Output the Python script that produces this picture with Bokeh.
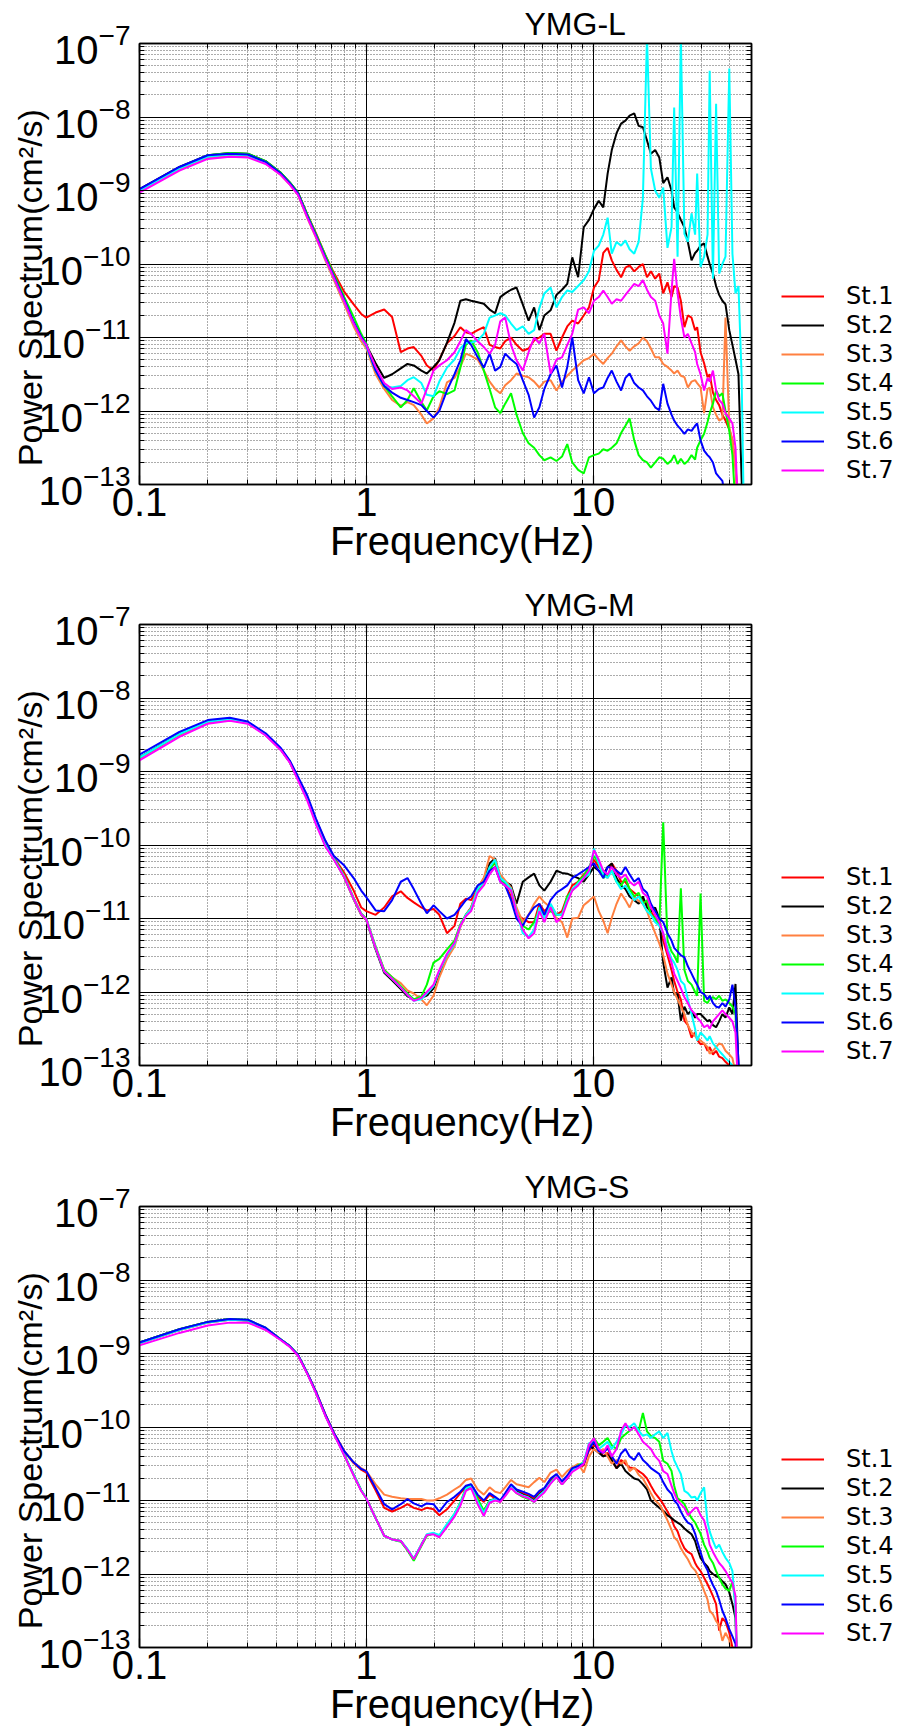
import sys
import math
import numpy as np
from bokeh.plotting import figure
from bokeh.models import (Range1d, FixedTicker, LogAxis, Legend, LegendItem,
                          CustomJSTickFormatter, LogTickFormatter, Title)
from bokeh.layouts import column, row
from bokeh.embed import file_html
from bokeh.resources import INLINE

# ---------------------------------------------------------------- data
FREQ_HZ = [
    0.10, 0.15, 0.20, 0.25, 0.30, 0.36, 0.42, 0.46,
    0.50, 0.55, 0.60, 0.66, 0.72, 0.80, 0.88, 0.95,
    1.00, 1.10, 1.20, 1.30, 1.42, 1.52, 1.62, 1.75, 1.85, 1.98,
    2.10, 2.27, 2.45, 2.60, 2.75, 2.90, 3.10, 3.30, 3.50, 3.70,
    3.90, 4.10, 4.35, 4.60, 4.90, 5.20, 5.50, 5.80, 6.10, 6.50,
    6.90, 7.30, 7.70, 8.10, 8.60, 9.10, 9.60,
    10.1, 10.6, 11.1, 11.6, 12.1, 12.7, 13.3, 13.9, 14.5, 15.2,
    15.9, 16.6, 17.3, 18.0, 18.8, 19.6, 20.4, 21.3, 22.2, 22.8,
    23.6, 24.4, 25.3, 26.2, 27.2, 28.2, 28.8, 29.8, 30.9, 32.0,
    32.7, 33.8, 34.9, 36.0, 37.2, 38.4, 39.9, 41.2, 42.5, 43.8,
    45.2, 46.6, 48.0, 49.5,
]

STATIONS = ["St.1", "St.2", "St.3", "St.4", "St.5", "St.6", "St.7"]
COLORS = ["#FF0000", "#000000", "#FF8040", "#00FF00", "#00FFFF", "#0000FF", "#FF00FF"]
PANEL_TITLES = ["YMG-L", "YMG-M", "YMG-S"]
Y_EXPONENTS = [-13, -12, -11, -10, -9, -8, -7]
X_MAJOR = [0.1, 1.0, 10.0]
X_TICK_TEXT = ["0.1", "1", "10"]
X_RANGE = (0.1, 50.0)
X_LABEL = "Frequency(Hz)"
Y_LABEL = "Power Spectrum(cm\u00b2/s)"

# log10 of power spectrum (cm^2/s)
# ---- YMG-L
L_ST1 = [
    -9.01, -8.71, -8.55, -8.52, -8.53, -8.63, -8.78, -8.90,
    -9.03, -9.33, -9.58, -9.88, -10.12, -10.38, -10.55, -10.68,
    -10.73, -10.66, -10.62, -10.72, -11.20, -11.15, -11.13, -11.25, -11.38, -11.45,
    -11.30, -11.08, -10.98, -10.86, -10.93, -10.95, -10.90, -10.86, -11.10, -11.13,
    -11.15, -11.05, -11.00, -11.10, -11.18, -11.15, -11.04, -11.00, -10.95, -10.95,
    -11.18, -11.00, -10.85, -10.77, -10.81, -10.70, -10.59,
    -10.32, -10.22, -9.85, -9.78, -9.95, -10.08, -10.18, -10.05, -10.02, -10.10,
    -10.04, -10.00, -10.18, -10.10, -10.20, -10.13, -10.40, -10.25, -10.45, -10.30,
    -10.32, -10.50, -10.86, -10.70, -10.73, -10.90, -10.86, -11.20, -11.35, -11.54,
    -11.50, -11.75, -11.85, -11.92, -12.05, -12.13, -12.25, -12.40, -12.75, -13.30,
    -14.0, -14.0, -14.0, -14.0,
]
L_ST2 = [
    -8.98, -8.68, -8.52, -8.49, -8.50, -8.60, -8.76, -8.89,
    -9.03, -9.34, -9.61, -9.91, -10.17, -10.50, -10.80, -11.00,
    -11.10, -11.35, -11.55, -11.50, -11.42, -11.36, -11.38, -11.45, -11.49, -11.40,
    -11.31, -11.07, -10.80, -10.50, -10.48, -10.50, -10.52, -10.54, -10.62, -10.67,
    -10.45, -10.40, -10.35, -10.32, -10.55, -10.77, -10.59, -10.90, -10.70, -10.63,
    -10.42, -10.35, -10.27, -9.91, -10.18, -9.50, -9.40,
    -9.25, -9.14, -9.23, -8.77, -8.45, -8.22, -8.09, -8.05, -7.98, -7.95,
    -8.12, -8.14, -8.32, -8.50, -8.45, -8.55, -8.90, -8.82, -9.00, -9.23,
    -9.30, -9.40, -9.50, -9.70, -9.95, -9.85, -9.82, -9.75, -9.72, -9.90,
    -10.00, -10.13, -10.30, -10.42, -10.50, -10.55, -10.90, -11.10, -11.30, -11.50,
    -12.90, -14.0, -14.0, -14.0,
]
L_ST3 = [
    -9.01, -8.71, -8.55, -8.52, -8.53, -8.63, -8.79, -8.92,
    -9.06, -9.38, -9.64, -9.95, -10.22, -10.55, -10.85, -11.05,
    -11.15, -11.50, -11.70, -11.85, -11.93, -11.88, -11.92, -12.05, -12.17, -12.10,
    -11.95, -11.61, -11.55, -11.40, -11.22, -11.25, -11.30, -11.45, -11.60, -11.70,
    -11.76, -11.65, -11.58, -11.49, -11.52, -11.54, -11.60, -11.68, -11.60, -11.58,
    -11.72, -11.60, -11.52, -11.45, -11.38, -11.31, -11.28,
    -11.22, -11.30, -11.36, -11.28, -11.22, -11.12, -11.04, -11.12, -11.18, -11.12,
    -11.08, -11.00, -11.05, -11.15, -11.27, -11.27, -11.36, -11.40, -11.45, -11.49,
    -11.45, -11.52, -11.54, -11.68, -11.60, -11.58, -11.62, -11.68, -12.03, -11.70,
    -11.68, -11.95, -12.05, -12.13, -12.10, -10.73, -12.22, -12.40, -12.77, -13.50,
    -14.0, -14.0, -14.0, -14.0,
]
L_ST4 = [
    -8.99, -8.69, -8.52, -8.49, -8.50, -8.60, -8.76, -8.89,
    -9.03, -9.33, -9.59, -9.88, -10.14, -10.45, -10.72, -10.95,
    -11.08, -11.45, -11.66, -11.80, -11.95, -11.85, -11.69, -11.88, -11.99, -11.80,
    -11.73, -11.77, -11.72, -11.41, -11.10, -11.04, -11.20, -11.45, -11.70, -11.95,
    -12.03, -11.90, -11.76, -12.05, -12.30, -12.44, -12.50, -12.60, -12.67, -12.63,
    -12.68, -12.62, -12.45, -12.70, -12.80, -12.85, -12.63,
    -12.60, -12.58, -12.52, -12.54, -12.50, -12.44, -12.30, -12.20, -12.10, -12.40,
    -12.60, -12.67, -12.70, -12.77, -12.70, -12.63, -12.65, -12.72, -12.67, -12.60,
    -12.72, -12.65, -12.72, -12.68, -12.60, -12.66, -12.50, -12.40, -12.31, -12.15,
    -12.03, -11.90, -11.72, -11.80, -11.76, -12.00, -12.27, -12.60, -13.30, -14.0,
    -14.0, -14.0, -14.0, -14.0,
]
L_ST5 = [
    -9.00, -8.70, -8.54, -8.51, -8.52, -8.62, -8.78, -8.91,
    -9.05, -9.36, -9.62, -9.93, -10.19, -10.51, -10.81, -11.01,
    -11.12, -11.45, -11.66, -11.68, -11.66, -11.58, -11.54, -11.62, -11.78, -11.80,
    -11.60, -11.41, -11.30, -11.15, -11.07, -11.07, -11.04, -10.95, -10.73, -10.70,
    -10.67, -10.70, -10.81, -10.90, -10.85, -10.95, -10.90, -10.60, -10.40, -10.32,
    -10.59, -10.45, -10.36, -10.38, -10.30, -10.22, -10.10,
    -9.82, -9.75, -9.60, -9.37, -9.86, -9.70, -9.75, -9.68, -9.80, -9.86,
    -9.70, -9.10, -6.90, -8.70, -9.00, -9.10, -8.96, -9.78, -9.50, -7.87,
    -9.90, -6.90, -9.59, -9.70, -9.31, -9.60, -8.77, -10.04, -9.90, -9.60,
    -7.37, -10.20, -7.82, -10.13, -10.00, -9.90, -7.34, -9.86, -10.40, -10.30,
    -11.50, -14.0, -14.0, -14.0,
]
L_ST6 = [
    -8.98, -8.68, -8.52, -8.50, -8.51, -8.61, -8.77, -8.90,
    -9.04, -9.35, -9.61, -9.91, -10.17, -10.49, -10.79, -10.99,
    -11.10, -11.45, -11.66, -11.75, -11.82, -11.85, -11.88, -11.92, -12.00, -12.09,
    -12.00, -11.72, -11.50, -11.31, -11.02, -11.10, -11.27, -11.41, -11.22, -11.45,
    -11.40, -11.22, -11.30, -11.36, -11.58, -11.78, -12.09, -11.95, -11.70, -11.50,
    -11.38, -11.68, -11.40, -11.00, -11.58, -11.76, -11.54,
    -11.76, -11.70, -11.68, -11.55, -11.45, -11.60, -11.72, -11.55, -11.49, -11.62,
    -11.68, -11.72, -11.80, -11.86, -11.95, -11.99, -11.63, -11.90, -12.05, -12.13,
    -12.20, -12.25, -12.31, -12.25, -12.27, -12.20, -12.17, -12.40, -12.54, -12.60,
    -12.63, -12.70, -12.85, -12.90, -12.95, -13.20, -14.0, -14.0, -14.0, -14.0,
    -14.0, -14.0, -14.0, -14.0,
]
L_ST7 = [
    -9.03, -8.73, -8.57, -8.54, -8.55, -8.64, -8.79, -8.92,
    -9.06, -9.37, -9.63, -9.93, -10.19, -10.51, -10.81, -11.01,
    -11.10, -11.40, -11.62, -11.70, -11.68, -11.72, -11.80, -11.90, -11.70, -11.45,
    -11.38, -11.31, -11.20, -11.05, -10.90, -10.95, -11.05, -11.13, -11.22, -11.10,
    -10.78, -10.73, -11.10, -11.31, -11.45, -11.20, -11.00, -11.08, -10.95, -11.49,
    -11.30, -11.27, -11.10, -10.95, -10.62, -10.59, -10.67,
    -10.50, -10.45, -10.36, -10.45, -10.54, -10.48, -10.50, -10.42, -10.35, -10.27,
    -10.30, -10.22, -10.35, -10.45, -10.50, -10.70, -10.81, -11.22, -10.36, -9.93,
    -10.40, -10.73, -11.00, -10.95, -11.08, -11.20, -11.36, -11.50, -11.72, -11.55,
    -11.60, -11.45, -11.72, -11.85, -11.90, -12.03, -12.10, -12.17, -12.50, -13.50,
    -14.0, -14.0, -14.0, -14.0,
]

# ---- YMG-M
M_ST1 = [
    -8.82, -8.50, -8.33, -8.30, -8.34, -8.50, -8.70, -8.87,
    -9.09, -9.36, -9.66, -9.95, -10.17, -10.38, -10.62, -10.85,
    -10.90, -10.95, -10.85, -10.70, -10.63, -10.72, -10.78, -10.85, -10.89, -10.87,
    -10.95, -11.20, -11.10, -10.80, -10.73, -10.75, -10.60, -10.45, -10.30, -10.25,
    -10.45, -10.55, -10.70, -10.95, -11.00, -11.05, -11.05, -10.80, -10.90, -10.82,
    -10.95, -10.90, -10.70, -10.55, -10.50, -10.40, -10.35,
    -10.20, -10.30, -10.35, -10.45, -10.25, -10.35, -10.50, -10.50, -10.60, -10.65,
    -10.70, -10.75, -10.80, -10.90, -11.00, -11.05, -11.30, -11.50, -11.70, -11.85,
    -12.00, -12.10, -12.39, -12.45, -12.62, -12.55, -12.65, -12.71, -12.70, -12.80,
    -12.75, -12.85, -12.80, -12.88, -12.90, -12.95, -13.00, -13.20, -13.50, -14.0,
    -14.0, -14.0, -14.0, -14.0,
]
M_ST2 = [
    -8.81, -8.49, -8.32, -8.29, -8.33, -8.50, -8.70, -8.87,
    -9.10, -9.37, -9.69, -10.00, -10.19, -10.44, -10.74, -10.95,
    -11.02, -11.42, -11.74, -11.84, -11.96, -12.06, -12.10, -12.08, -12.05, -11.95,
    -11.75, -11.50, -11.35, -11.10, -10.95, -10.85, -10.60, -10.50, -10.25, -10.18,
    -10.45, -10.50, -10.55, -10.80, -10.50, -10.44, -10.39, -10.55, -10.62, -10.50,
    -10.35, -10.38, -10.39, -10.42, -10.45, -10.50, -10.40,
    -10.30, -10.35, -10.40, -10.30, -10.25, -10.45, -10.55, -10.60, -10.70, -10.75,
    -10.80, -10.70, -10.85, -10.90, -10.85, -11.00, -11.60, -11.94, -11.80, -12.03,
    -12.03, -12.39, -12.20, -12.30, -12.25, -12.35, -12.30, -12.30, -12.35, -12.40,
    -12.38, -12.45, -12.48, -12.40, -12.30, -12.35, -12.21, -12.30, -11.89, -13.00,
    -14.0, -14.0, -14.0, -14.0,
]
M_ST3 = [
    -8.82, -8.50, -8.33, -8.30, -8.34, -8.50, -8.70, -8.87,
    -9.10, -9.37, -9.69, -10.00, -10.19, -10.44, -10.74, -10.95,
    -11.02, -11.40, -11.70, -11.80, -11.88, -11.98, -12.02, -12.10, -12.18, -12.05,
    -11.80, -11.55, -11.38, -11.12, -10.95, -10.85, -10.58, -10.45, -10.15, -10.20,
    -10.40, -10.48, -10.58, -10.85, -11.05, -10.95, -10.80, -10.70, -10.78, -10.85,
    -11.00, -11.05, -11.26, -11.00, -10.99, -10.82, -10.76,
    -10.70, -10.90, -11.03, -11.20, -10.99, -10.80, -10.66, -10.75, -10.85, -10.70,
    -10.76, -10.80, -10.90, -11.05, -11.20, -11.34, -11.50, -11.75, -11.90, -12.00,
    -12.10, -12.20, -12.30, -12.45, -12.55, -12.60, -12.62, -12.66, -12.70, -12.75,
    -12.84, -12.80, -12.75, -12.70, -12.72, -12.80, -12.85, -12.90, -13.10, -14.0,
    -14.0, -14.0, -14.0, -14.0,
]
M_ST4 = [
    -8.81, -8.49, -8.32, -8.29, -8.33, -8.50, -8.70, -8.87,
    -9.10, -9.37, -9.69, -10.00, -10.18, -10.42, -10.72, -10.93,
    -11.00, -11.38, -11.70, -11.80, -11.92, -12.02, -12.10, -12.06, -11.90, -11.60,
    -11.55, -11.42, -11.30, -11.08, -10.95, -10.88, -10.62, -10.50, -10.35, -10.22,
    -10.48, -10.52, -10.62, -10.92, -11.10, -11.15, -11.05, -10.88, -10.95, -10.90,
    -10.95, -10.95, -10.70, -10.62, -10.50, -10.42, -10.30,
    -10.15, -10.25, -10.45, -10.40, -10.35, -10.50, -10.55, -10.45, -10.60, -10.70,
    -10.65, -10.80, -10.75, -10.95, -11.00, -11.10, -9.69, -11.30, -11.45, -11.50,
    -11.60, -10.59, -11.70, -11.85, -11.90, -12.00, -12.05, -10.66, -12.12, -12.15,
    -12.10, -12.07, -12.10, -12.05, -12.12, -12.10, -12.15, -12.20, -12.30, -13.30,
    -14.0, -14.0, -14.0, -14.0,
]
M_ST5 = [
    -8.81, -8.49, -8.32, -8.29, -8.33, -8.50, -8.70, -8.87,
    -9.10, -9.37, -9.69, -10.00, -10.19, -10.43, -10.73, -10.94,
    -11.01, -11.40, -11.72, -11.82, -11.94, -12.04, -12.12, -12.10, -12.02, -11.92,
    -11.72, -11.50, -11.35, -11.10, -10.95, -10.87, -10.60, -10.50, -10.30, -10.20,
    -10.45, -10.50, -10.60, -10.90, -11.20, -11.25, -11.15, -10.85, -11.00, -10.80,
    -10.95, -10.95, -10.75, -10.60, -10.52, -10.45, -10.40,
    -10.05, -10.25, -10.40, -10.45, -10.35, -10.50, -10.60, -10.55, -10.65, -10.75,
    -10.70, -10.80, -10.90, -10.95, -11.05, -11.10, -11.20, -11.40, -11.55, -11.60,
    -11.70, -11.85, -11.90, -12.10, -12.30, -12.50, -12.66, -12.55, -12.60, -12.66,
    -12.60, -12.70, -12.75, -12.80, -12.85, -12.90, -12.95, -13.00, -13.20, -14.0,
    -14.0, -14.0, -14.0, -14.0,
]
M_ST6 = [
    -8.77, -8.46, -8.30, -8.27, -8.32, -8.48, -8.68, -8.85,
    -9.07, -9.33, -9.64, -9.94, -10.15, -10.28, -10.45, -10.62,
    -10.71, -10.89, -10.90, -10.75, -10.50, -10.45, -10.60, -10.80, -10.93, -10.82,
    -10.90, -11.00, -10.95, -10.85, -10.75, -10.70, -10.55, -10.50, -10.35, -10.30,
    -10.50, -10.55, -10.75, -11.00, -11.10, -10.95, -10.85, -10.80, -10.95, -10.75,
    -10.65, -10.60, -10.55, -10.45, -10.40, -10.35, -10.30,
    -10.25, -10.35, -10.45, -10.30, -10.31, -10.35, -10.40, -10.30, -10.40, -10.50,
    -10.45, -10.60, -10.65, -10.80, -10.90, -11.00, -11.05, -11.20, -11.30, -11.40,
    -11.45, -11.50, -11.53, -11.65, -11.75, -11.85, -11.90, -12.00, -12.03, -12.10,
    -12.05, -12.15, -12.20, -12.21, -12.15, -12.20, -12.10, -11.90, -12.20, -12.95,
    -14.0, -14.0, -14.0, -14.0,
]
M_ST7 = [
    -8.85, -8.53, -8.35, -8.31, -8.35, -8.51, -8.71, -8.88,
    -9.12, -9.40, -9.72, -10.02, -10.20, -10.44, -10.73, -10.94,
    -11.01, -11.40, -11.72, -11.82, -11.94, -12.04, -12.12, -12.08, -12.00, -11.90,
    -11.70, -11.48, -11.33, -11.10, -10.97, -10.90, -10.65, -10.55, -10.40, -10.30,
    -10.50, -10.55, -10.62, -10.92, -11.15, -11.27, -11.20, -10.90, -11.05, -10.85,
    -11.05, -10.98, -10.78, -10.62, -10.55, -10.45, -10.35,
    -10.07, -10.20, -10.35, -10.40, -10.30, -10.40, -10.45, -10.40, -10.50, -10.55,
    -10.50, -10.65, -10.70, -10.85, -10.95, -11.05, -11.20, -11.45, -11.60, -11.75,
    -11.85, -11.95, -12.07, -12.15, -12.25, -12.30, -12.35, -12.40, -12.48, -12.45,
    -12.50, -12.40, -12.35, -12.30, -12.25, -12.30, -12.35, -12.40, -12.55, -13.40,
    -14.0, -14.0, -14.0, -14.0,
]

# ---- YMG-S
S_ST1 = [
    -8.86, -8.68, -8.58, -8.54, -8.55, -8.66, -8.81, -8.90,
    -9.02, -9.27, -9.52, -9.83, -10.08, -10.33, -10.49, -10.58,
    -10.62, -10.86, -11.10, -11.15, -11.10, -11.05, -11.10, -11.13, -11.10, -11.12,
    -11.20, -11.12, -11.00, -10.90, -10.82, -10.80, -10.95, -11.02, -10.92, -10.97,
    -11.02, -10.92, -10.80, -10.87, -10.90, -10.93, -10.97, -10.89, -10.85, -10.72,
    -10.66, -10.76, -10.68, -10.58, -10.55, -10.52, -10.32,
    -10.25, -10.30, -10.40, -10.35, -10.45, -10.56, -10.45, -10.50, -10.55, -10.56,
    -10.60, -10.64, -10.70, -10.80, -10.90, -10.97, -11.05, -11.15, -11.25, -11.35,
    -11.42, -11.55, -11.65, -11.70, -11.73, -11.85, -11.90, -11.96, -12.05, -12.14,
    -12.20, -12.30, -12.41, -12.77, -12.60, -12.65, -12.80, -13.00, -13.50, -14.0,
    -14.0, -14.0, -14.0, -14.0,
]
S_ST2 = [
    -8.85, -8.67, -8.57, -8.53, -8.55, -8.66, -8.81, -8.90,
    -9.02, -9.27, -9.53, -9.84, -10.09, -10.38, -10.65, -10.86,
    -10.97, -11.24, -11.48, -11.53, -11.55, -11.67, -11.80, -11.60, -11.47, -11.45,
    -11.49, -11.35, -11.20, -11.05, -10.85, -10.80, -11.00, -11.15, -11.00, -10.98,
    -11.00, -10.92, -10.80, -10.88, -10.92, -10.95, -11.00, -10.92, -10.86, -10.75,
    -10.68, -10.78, -10.70, -10.60, -10.55, -10.50, -10.25,
    -10.30, -10.35, -10.40, -10.38, -10.45, -10.56, -10.50, -10.60, -10.65, -10.70,
    -10.72, -10.78, -10.85, -11.00, -11.05, -11.10, -11.14, -11.20, -11.24, -11.27,
    -11.30, -11.33, -11.38, -11.42, -11.46, -11.55, -11.65, -11.78, -11.85, -11.90,
    -11.96, -12.00, -12.03, -12.05, -12.10, -12.14, -12.25, -12.41, -12.60, -14.0,
    -14.0, -14.0, -14.0, -14.0,
]
S_ST3 = [
    -8.86, -8.68, -8.58, -8.54, -8.55, -8.66, -8.81, -8.90,
    -9.02, -9.27, -9.52, -9.83, -10.08, -10.33, -10.48, -10.56,
    -10.60, -10.78, -10.92, -10.95, -10.97, -10.98, -10.98, -10.98, -11.00, -11.00,
    -10.97, -10.92, -10.85, -10.80, -10.72, -10.70, -10.85, -10.92, -10.82, -10.88,
    -10.90, -10.82, -10.72, -10.78, -10.80, -10.82, -10.75, -10.69, -10.75, -10.62,
    -10.58, -10.68, -10.60, -10.55, -10.50, -10.62, -10.40,
    -10.30, -10.35, -10.30, -10.40, -10.50, -10.45, -10.50, -10.45, -10.60, -10.55,
    -10.65, -10.70, -10.80, -10.90, -11.00, -11.05, -11.15, -11.27, -11.40, -11.50,
    -11.55, -11.65, -11.73, -11.80, -11.90, -11.95, -12.00, -12.10, -12.23, -12.35,
    -12.50, -12.55, -12.64, -12.70, -12.91, -12.80, -12.90, -13.20, -14.0, -14.0,
    -14.0, -14.0, -14.0, -14.0,
]
S_ST4 = [
    -8.85, -8.67, -8.57, -8.53, -8.54, -8.65, -8.81, -8.90,
    -9.02, -9.27, -9.53, -9.84, -10.09, -10.38, -10.65, -10.86,
    -10.97, -11.24, -11.48, -11.53, -11.56, -11.68, -11.82, -11.62, -11.48, -11.45,
    -11.48, -11.33, -11.18, -11.03, -10.83, -10.78, -10.98, -11.14, -11.00, -10.99,
    -11.01, -10.93, -10.82, -10.90, -10.95, -10.98, -11.02, -10.94, -10.88, -10.76,
    -10.66, -10.76, -10.68, -10.58, -10.52, -10.48, -10.28,
    -10.15, -10.25, -10.20, -10.15, -10.25, -10.30, -10.15, -10.10, -10.05, -10.00,
    -10.05, -9.81, -10.06, -10.12, -10.15, -10.20, -10.46, -10.50, -10.60, -10.80,
    -10.97, -11.00, -11.05, -11.15, -11.24, -11.30, -11.36, -11.45, -11.60, -11.70,
    -11.78, -11.85, -11.96, -12.05, -12.14, -12.20, -12.23, -12.10, -12.40, -14.0,
    -14.0, -14.0, -14.0, -14.0,
]
S_ST5 = [
    -8.86, -8.68, -8.58, -8.54, -8.55, -8.66, -8.81, -8.90,
    -9.02, -9.27, -9.53, -9.84, -10.09, -10.38, -10.65, -10.86,
    -10.97, -11.24, -11.48, -11.53, -11.55, -11.66, -11.79, -11.60, -11.46, -11.44,
    -11.47, -11.32, -11.18, -11.04, -10.84, -10.80, -11.02, -11.17, -11.01, -10.98,
    -11.00, -10.92, -10.81, -10.89, -10.93, -10.96, -11.01, -10.93, -10.87, -10.76,
    -10.67, -10.77, -10.69, -10.59, -10.54, -10.48, -10.22,
    -10.20, -10.30, -10.25, -10.20, -10.30, -10.20, -10.10, -9.98, -10.00, -9.95,
    -10.05, -10.12, -10.10, -10.15, -10.10, -10.06, -10.15, -10.08, -10.33, -10.45,
    -10.55, -10.64, -10.87, -10.90, -10.96, -10.95, -11.00, -10.90, -10.82, -11.30,
    -11.42, -11.55, -11.65, -11.60, -11.70, -11.78, -11.85, -11.96, -12.50, -14.0,
    -14.0, -14.0, -14.0, -14.0,
]
S_ST6 = [
    -8.85, -8.67, -8.57, -8.53, -8.54, -8.65, -8.81, -8.90,
    -9.02, -9.27, -9.52, -9.83, -10.08, -10.33, -10.48, -10.57,
    -10.60, -10.83, -11.05, -11.12, -11.05, -10.98, -11.04, -11.08, -11.04, -11.05,
    -11.15, -11.02, -10.95, -10.88, -10.80, -10.78, -10.92, -11.00, -10.90, -10.95,
    -11.00, -10.90, -10.78, -10.85, -10.88, -10.91, -10.95, -10.87, -10.83, -10.70,
    -10.64, -10.74, -10.66, -10.56, -10.53, -10.50, -10.30,
    -10.20, -10.33, -10.35, -10.29, -10.40, -10.50, -10.36, -10.30, -10.40, -10.45,
    -10.35, -10.45, -10.50, -10.56, -10.60, -10.64, -10.75, -10.85, -10.91, -11.00,
    -11.05, -11.15, -11.24, -11.30, -11.33, -11.45, -11.55, -11.70, -11.86, -11.95,
    -12.05, -12.15, -12.23, -12.35, -12.50, -12.60, -12.75, -12.85, -12.95, -14.0,
    -14.0, -14.0, -14.0, -14.0,
]
S_ST7 = [
    -8.89, -8.72, -8.62, -8.58, -8.58, -8.68, -8.82, -8.91,
    -9.03, -9.28, -9.54, -9.85, -10.10, -10.39, -10.66, -10.87,
    -10.97, -11.24, -11.48, -11.53, -11.55, -11.67, -11.80, -11.61, -11.47, -11.46,
    -11.50, -11.36, -11.22, -11.07, -10.87, -10.83, -11.05, -11.21, -11.03, -11.00,
    -11.02, -10.94, -10.83, -10.90, -10.94, -10.97, -11.02, -10.95, -10.89, -10.77,
    -10.68, -10.78, -10.70, -10.61, -10.56, -10.50, -10.24,
    -10.15, -10.30, -10.35, -10.25, -10.40, -10.30, -10.05, -9.95, -10.05, -10.00,
    -10.10, -10.20, -10.25, -10.30, -10.40, -10.46, -10.60, -10.64, -10.80, -10.90,
    -11.00, -11.05, -11.10, -11.20, -11.15, -11.10, -11.10, -11.20, -11.27, -11.45,
    -11.60, -11.70, -11.78, -11.85, -11.90, -11.96, -12.05, -12.12, -12.30, -14.0,
    -14.0, -14.0, -14.0, -14.0,
]

PANEL_SERIES = [
    [L_ST1, L_ST2, L_ST3, L_ST4, L_ST5, L_ST6, L_ST7],
    [M_ST1, M_ST2, M_ST3, M_ST4, M_ST5, M_ST6, M_ST7],
    [S_ST1, S_ST2, S_ST3, S_ST4, S_ST5, S_ST6, S_ST7],
]

# ---------------------------------------------------------------- style
FONT = "Liberation Sans"
LEGEND_FONT = "DejaVu Sans"
FRAME_W, FRAME_H = 612, 441
BORDER_LEFT, BORDER_TOP, BORDER_RIGHT = 139, 43, 3
BORDER_BOTTOMS = [97, 98, 83]
LEGEND_W = 902 - BORDER_LEFT - FRAME_W - BORDER_RIGHT
NBSP = "\u00a0"

x_minor = [m * 10.0 ** k for k in (-1, 0, 1) for m in range(2, 10) if m * 10.0 ** k < X_RANGE[1]]
y_minor = [m * 10.0 ** k for k in range(Y_EXPONENTS[0], Y_EXPONENTS[-1]) for m in range(2, 10)]
y_major = [10.0 ** e for e in Y_EXPONENTS]


def style_axis(ax):
    ax.major_tick_in = 9
    ax.major_tick_out = 0
    ax.minor_tick_in = 5
    ax.minor_tick_out = 0
    ax.axis_line_color = "black"
    ax.axis_line_width = 1.5
    ax.major_tick_line_color = "black"
    ax.minor_tick_line_color = "black"
    ax.major_tick_line_width = 1.2
    ax.minor_tick_line_width = 1


def silent(ax):
    ax.formatter = CustomJSTickFormatter(code="return ''")
    ax.major_label_text_font_size = "0px"
    ax.major_label_standoff = 0


def make_panel(title, series, bottom):
    p = figure(frame_width=FRAME_W, frame_height=FRAME_H,
               x_axis_type="log", y_axis_type="log",
               x_range=Range1d(*X_RANGE),
               y_range=Range1d(y_major[0], y_major[-1]),
               output_backend="svg", toolbar_location=None,
               min_border_left=BORDER_LEFT, min_border_right=BORDER_RIGHT,
               min_border_top=BORDER_TOP, min_border_bottom=bottom,
               background_fill_color="white", border_fill_color="white")
    p.outline_line_color = "black"
    p.outline_line_width = 1.5

    xt = FixedTicker(ticks=X_MAJOR, minor_ticks=x_minor)
    yt = FixedTicker(ticks=y_major, minor_ticks=y_minor)

    top = LogAxis()
    right = LogAxis()
    p.add_layout(top, "above")
    p.add_layout(right, "right")

    for ax in p.xaxis:
        ax.ticker = xt
        style_axis(ax)
    for ax in p.yaxis:
        ax.ticker = yt
        style_axis(ax)
    silent(top)
    silent(right)

    # bottom axis: 0.1 / 1 / 10
    bx = p.below[0]
    bx.formatter = CustomJSTickFormatter(
        args=dict(vals=X_MAJOR, texts=X_TICK_TEXT),
        code="for (let i = 0; i < vals.length; i++) { if (Math.abs(vals[i] - tick) < 1e-9 * vals[i]) return texts[i]; } return '';")
    bx.major_label_text_font = FONT
    bx.major_label_text_font_size = "40px"
    bx.major_label_text_color = "black"
    bx.major_label_standoff = 3
    bx.axis_label = NBSP * 3 + X_LABEL
    bx.axis_label_text_font = FONT
    bx.axis_label_text_font_size = "40px"
    bx.axis_label_text_font_style = "normal"
    bx.axis_label_text_color = "black"
    bx.axis_label_standoff = 0

    # left axis: 10^n with superscript exponent
    ly = p.left[0]
    ly.formatter = LogTickFormatter()
    ly.major_label_text_font = FONT
    ly.major_label_text_font_size = "40px"
    ly.major_label_text_color = "black"
    ly.major_label_standoff = 9
    ly.axis_label = Y_LABEL + NBSP * 5
    ly.axis_label_text_font = FONT
    ly.axis_label_text_font_size = "34px"
    ly.axis_label_text_font_style = "normal"
    ly.axis_label_text_color = "black"
    ly.axis_label_standoff = -13

    p.title = Title(text=title, align="left", offset=385, standoff=3,
                    text_font=FONT, text_font_size="32px",
                    text_font_style="normal", text_color="black")

    for g, t in ((p.xgrid, xt), (p.ygrid, yt)):
        g.ticker = t
        g.grid_line_color = "black"
        g.grid_line_width = 1
        g.minor_grid_line_color = "black"
        g.minor_grid_line_alpha = 0.65
        g.minor_grid_line_dash = "1 2"
        g.minor_grid_line_width = 1

    for name, vals, color in zip(STATIONS, series, COLORS):
        n = min(len(FREQ_HZ), len(vals))
        if n != len(FREQ_HZ) or n != len(vals):
            print("length mismatch", title, name, len(vals), file=sys.stderr)
        y = np.power(10.0, np.asarray(vals[:n], dtype=float))
        p.line(FREQ_HZ[:n], y, line_color=color, line_width=2)
    return p


def make_legend(height, series):
    # a plain side figure whose frame holds the station legend; its lines
    # carry the same data but lie outside its (empty) view
    lf = figure(width=LEGEND_W, height=height,
                x_range=Range1d(-2, -1), y_range=Range1d(-2, -1),
                x_axis_location=None, y_axis_location=None,
                output_backend="svg", toolbar_location=None,
                min_border=0, outline_line_color=None,
                background_fill_color="white", border_fill_color="white")
    lf.xgrid.visible = False
    lf.ygrid.visible = False
    items = []
    for name, vals, color in zip(STATIONS, series, COLORS):
        n = min(len(FREQ_HZ), len(vals))
        y = np.power(10.0, np.asarray(vals[:n], dtype=float))
        r = lf.line(FREQ_HZ[:n], y, line_color=color, line_width=2)
        items.append(LegendItem(label=name, renderers=[r]))
    legend = Legend(items=items, location=(27, 0),
                    label_text_font=LEGEND_FONT, label_text_font_size="24px",
                    label_text_color="black",
                    glyph_width=43, glyph_height=28, label_height=28,
                    label_standoff=22, spacing=1, padding=0, margin=0,
                    border_line_color=None, background_fill_alpha=0)
    lf.add_layout(legend)
    return lf


rows = []
for t, s, b in zip(PANEL_TITLES, PANEL_SERIES, BORDER_BOTTOMS):
    main = make_panel(t, s, b)
    h = BORDER_TOP + FRAME_H + b
    rows.append(row(main, make_legend(h, s), spacing=0))
layout = column(*rows, spacing=0)

open("out.html", "w").write(file_html(layout, INLINE))
